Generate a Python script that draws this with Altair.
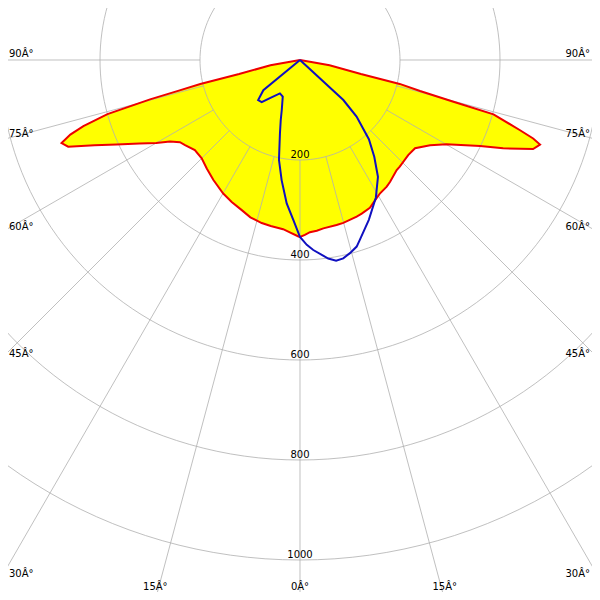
import altair as alt
import pandas as pd

# Red plane (filled yellow): signed angle in degrees (negative = left), intensity
red_angle = [-90, -80, -77, -76.5, -75.8, -75.3, -74.3, -73, -72, -70.8, -69.5, -67.5,
             -65.3, -62.5, -60, -57.9, -55.6, -53.5, -49.4, -45, -40.7, -35.8, -29.9,
             -25.7, -21.2, -17.5, -13.2, -10, -5.7, -3.9, -0.5,
             0, 1.6, 3.3, 5.6, 7.9, 12.5, 14.9, 19.9, 21.9, 25.3, 29, 31, 34.4, 36.5,
             41.3, 43.1, 48.7, 52.5, 56.8, 60.1, 64.5, 66.5, 69.1, 70.6, 71.4, 72.3,
             74.3, 74.8, 75.5, 76.5, 77, 80, 90]
red_intensity = [0, 60, 125, 205, 250, 310, 400, 453, 483, 505, 495, 445,
                 404, 362, 332, 307, 291, 286, 277, 278, 286, 296, 308,
                 315, 322, 330, 335, 337, 340, 344, 353,
                 354, 350, 345, 343, 340, 338, 337, 333, 331, 327, 316, 311, 307, 303,
                 293, 292, 288, 290, 311, 338, 399, 443, 499, 509, 492, 462,
                 402, 318, 248, 205, 125, 60, 0]

# Blue plane (outline only)
blue_angle = [-55, -50.5, -46.2, -42.2, -37.7, -31, -25.2, -20.1, -17.8, -15.3, -11.9,
              -8.7, -5.3, -2.4, 0, 2.1, 4, 8.1, 10.2, 12.3, 14.5, 16.9, 18.4, 23.3,
              28.9, 33.7, 37.5, 41, 42, 45, 47.3, 55]
blue_intensity = [0, 95, 116, 114, 95, 78, 81, 106, 126, 152, 204,
                  243, 288, 320, 354, 370, 381, 401, 408, 406, 399, 390, 379, 348,
                  314, 281, 244, 210, 195, 160, 118, 0]

ring_values = [200, 400, 600, 800, 1000]
ring_labels = ["200", "400", "600", "800", "1000"]
spoke_angles = [-90, -75, -60, -45, -30, -15, 0, 15, 30, 45, 60, 75, 90]
spoke_labels = ["90Â°", "75Â°", "60Â°", "45Â°", "30Â°", "15Â°", "0Â°",
                "15Â°", "30Â°", "45Â°", "60Â°", "75Â°", "90Â°"]

FONT = "DejaVu Sans"
xs = alt.Scale(domain=[-584, 584], nice=False, zero=False)
ys = alt.Scale(domain=[-1064, 104], nice=False, zero=False)
X = alt.X("x:Q", scale=xs, axis=None)
Y = alt.Y("y:Q", scale=ys, axis=None)

XY = dict(x="datum.r*sin(datum.a*PI/180)", y="-datum.r*cos(datum.a*PI/180)")

red_df = pd.DataFrame({"a": red_angle, "r": red_intensity, "i": range(len(red_angle))})
blue_df = pd.DataFrame({"a": blue_angle, "r": blue_intensity, "i": range(len(blue_angle))})
ring_df = pd.DataFrame({"r": ring_values, "t": ring_labels})
spoke_df = pd.DataFrame({"a": spoke_angles, "t": spoke_labels})

red_fill = alt.Chart(red_df).transform_calculate(**XY).mark_line(
    fill="#ffff00", strokeOpacity=0
).encode(X, Y, order="i:Q")

circles = alt.Chart(ring_df).transform_calculate(
    a="sequence(0, 362, 2)"
).transform_flatten(["a"]).transform_calculate(**XY).mark_line(
    stroke="#b0b0b0", strokeWidth=1, opacity=0.8, clip=True
).encode(X, Y, detail="r:N", order="a:Q")

spokes = alt.Chart(spoke_df).transform_calculate(
    x=f"{ring_values[0]}*sin(datum.a*PI/180)",
    y=f"-{ring_values[0]}*cos(datum.a*PI/180)",
    xe="3000*sin(datum.a*PI/180)",
    ye="-3000*cos(datum.a*PI/180)",
).mark_rule(stroke="#b0b0b0", strokeWidth=1, opacity=0.8, clip=True).encode(
    X, Y, x2="xe:Q", y2="ye:Q"
)

red_line = alt.Chart(red_df).transform_calculate(**XY).mark_line(
    stroke="#ee0000", strokeWidth=2
).encode(X, Y, order="i:Q")

blue_line = alt.Chart(blue_df).transform_calculate(**XY).mark_line(
    stroke="#1010c0", strokeWidth=2
).encode(X, Y, order="i:Q")

ring_text = alt.Chart(ring_df).transform_calculate(x="0", y="-datum.r").mark_text(
    font=FONT, fontSize=10, color="black", align="center", baseline="alphabetic", dy=-2
).encode(X, Y, text="t:N")

edge = alt.Chart(spoke_df).transform_calculate(
    x="abs(datum.a) >= 30 ? (datum.a < 0 ? -600 : 600) : 1080*tan(datum.a*PI/180)",
    y="abs(datum.a) >= 30 ? -600/tan(abs(datum.a)*PI/180) : -1080",
)
left_lbl = edge.transform_filter("datum.a <= -30").mark_text(
    font=FONT, fontSize=10, color="black", align="left", baseline="alphabetic", dx=9, dy=-3
).encode(X, Y, text="t:N")
right_lbl = edge.transform_filter("datum.a >= 30").mark_text(
    font=FONT, fontSize=10, color="black", align="right", baseline="alphabetic", dx=-10, dy=-3
).encode(X, Y, text="t:N")
bottom_lbl = edge.transform_filter("abs(datum.a) < 30").mark_text(
    font=FONT, fontSize=10, color="black", align="center", baseline="alphabetic", dy=-10
).encode(X, Y, text="t:N")

chart = alt.layer(
    red_fill, circles, spokes, red_line, blue_line, ring_text, left_lbl, right_lbl, bottom_lbl
).properties(
    width=584, height=584, padding=0, autosize=alt.AutoSizeParams(type="none"),
    background="white"
).configure_view(stroke=None)

chart.save("out.html", embed_options={"renderer": "svg", "actions": False})
